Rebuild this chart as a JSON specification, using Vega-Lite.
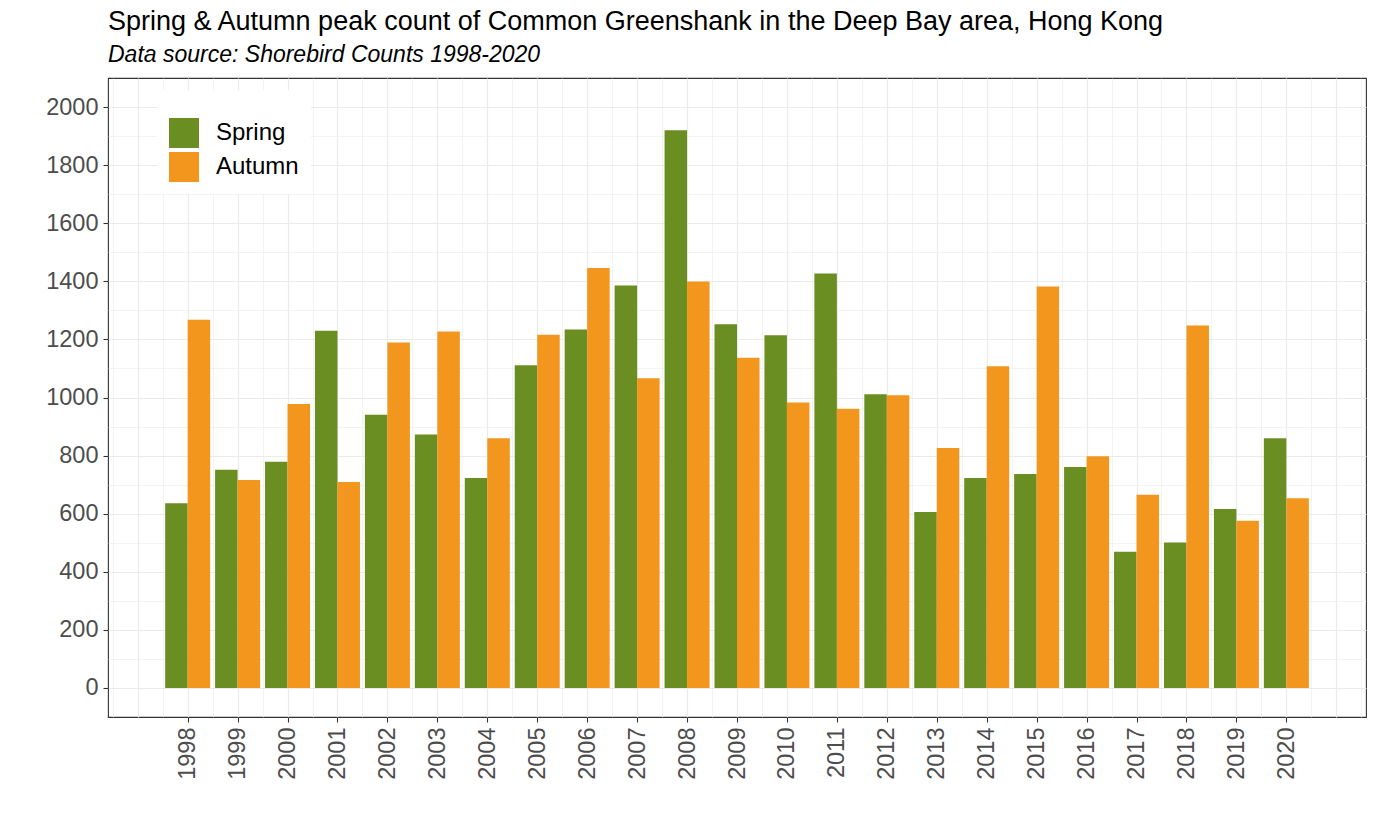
{
  "$schema": "https://vega.github.io/schema/vega-lite/v6.json",
  "description": "Spring and autumn peak counts of Common Greenshank, Deep Bay, 1998-2020",
  "width": 1258,
  "height": 639,
  "autosize": {"type": "none"},
  "padding": {"left": 108, "top": 78, "right": 12, "bottom": 110},
  "background": "white",
  "title": {
    "text": "Spring & Autumn peak count of Common Greenshank in the Deep Bay area, Hong Kong",
    "subtitle": "Data source: Shorebird Counts 1998-2020",
    "anchor": "start",
    "frame": "group",
    "font": "Liberation Sans",
    "fontSize": 27,
    "fontWeight": "normal",
    "color": "black",
    "subtitleFont": "Liberation Sans",
    "subtitleFontSize": 23,
    "subtitleFontStyle": "italic",
    "subtitleColor": "black",
    "subtitlePadding": 8,
    "offset": 10
  },
  "data": {
    "values": [
      {"year": 1998, "season": "Spring", "count": 636},
      {"year": 1998, "season": "Autumn", "count": 1268},
      {"year": 1999, "season": "Spring", "count": 751},
      {"year": 1999, "season": "Autumn", "count": 716},
      {"year": 2000, "season": "Spring", "count": 779},
      {"year": 2000, "season": "Autumn", "count": 978},
      {"year": 2001, "season": "Spring", "count": 1230},
      {"year": 2001, "season": "Autumn", "count": 709},
      {"year": 2002, "season": "Spring", "count": 941},
      {"year": 2002, "season": "Autumn", "count": 1189},
      {"year": 2003, "season": "Spring", "count": 873},
      {"year": 2003, "season": "Autumn", "count": 1227},
      {"year": 2004, "season": "Spring", "count": 723},
      {"year": 2004, "season": "Autumn", "count": 860},
      {"year": 2005, "season": "Spring", "count": 1111},
      {"year": 2005, "season": "Autumn", "count": 1216},
      {"year": 2006, "season": "Spring", "count": 1234},
      {"year": 2006, "season": "Autumn", "count": 1446},
      {"year": 2007, "season": "Spring", "count": 1386},
      {"year": 2007, "season": "Autumn", "count": 1066},
      {"year": 2008, "season": "Spring", "count": 1920},
      {"year": 2008, "season": "Autumn", "count": 1399},
      {"year": 2009, "season": "Spring", "count": 1252},
      {"year": 2009, "season": "Autumn", "count": 1137},
      {"year": 2010, "season": "Spring", "count": 1214},
      {"year": 2010, "season": "Autumn", "count": 983},
      {"year": 2011, "season": "Spring", "count": 1427},
      {"year": 2011, "season": "Autumn", "count": 961},
      {"year": 2012, "season": "Spring", "count": 1011},
      {"year": 2012, "season": "Autumn", "count": 1008},
      {"year": 2013, "season": "Spring", "count": 606},
      {"year": 2013, "season": "Autumn", "count": 826},
      {"year": 2014, "season": "Spring", "count": 723},
      {"year": 2014, "season": "Autumn", "count": 1108},
      {"year": 2015, "season": "Spring", "count": 737},
      {"year": 2015, "season": "Autumn", "count": 1382},
      {"year": 2016, "season": "Spring", "count": 761},
      {"year": 2016, "season": "Autumn", "count": 798},
      {"year": 2017, "season": "Spring", "count": 469},
      {"year": 2017, "season": "Autumn", "count": 665},
      {"year": 2018, "season": "Spring", "count": 501},
      {"year": 2018, "season": "Autumn", "count": 1248},
      {"year": 2019, "season": "Spring", "count": 616},
      {"year": 2019, "season": "Autumn", "count": 576},
      {"year": 2020, "season": "Spring", "count": 860},
      {"year": 2020, "season": "Autumn", "count": 653}
    ]
  },
  "encoding": {
    "x": {
      "field": "year",
      "type": "quantitative",
      "title": null,
      "scale": {"domain": [1996.405, 2021.595], "nice": false, "zero": false, "padding": 0},
      "axis": {
        "values": [1996.5, 1997, 1997.5, 1998, 1998.5, 1999, 1999.5, 2000, 2000.5, 2001, 2001.5, 2002, 2002.5, 2003, 2003.5, 2004, 2004.5, 2005, 2005.5, 2006, 2006.5, 2007, 2007.5, 2008, 2008.5, 2009, 2009.5, 2010, 2010.5, 2011, 2011.5, 2012, 2012.5, 2013, 2013.5, 2014, 2014.5, 2015, 2015.5, 2016, 2016.5, 2017, 2017.5, 2018, 2018.5, 2019, 2019.5, 2020, 2020.5, 2021, 2021.5],
        "labelExpr": "abs(datum.value - round(datum.value)) < 0.01 && datum.value > 1997.9 && datum.value < 2020.1 ? format(datum.value, 'd') : ''",
        "labelAngle": 270,
        "labelAlign": "right",
        "labelBaseline": "middle",
        "labelPadding": 5,
        "labelOverlap": false,
        "labelFlush": false,
        "tickOpacity": {"condition": {"test": "abs(datum.value - round(datum.value)) < 0.01 && datum.value > 1997.9 && datum.value < 2020.1", "value": 1}, "value": 0},
        "gridWidth": {"condition": {"test": "abs(datum.value - round(datum.value)) < 0.01", "value": 1.2}, "value": 0.6}
      }
    },
    "y": {
      "field": "count",
      "type": "quantitative",
      "title": null,
      "scale": {"domain": [-100, 2100], "nice": false, "padding": 0},
      "axis": {
        "values": [0, 100, 200, 300, 400, 500, 600, 700, 800, 900, 1000, 1100, 1200, 1300, 1400, 1500, 1600, 1700, 1800, 1900, 2000],
        "labelExpr": "abs(datum.value / 200 - round(datum.value / 200)) < 0.01 ? format(datum.value, 'd') : ''",
        "labelPadding": 5,
        "labelOverlap": false,
        "labelFlush": false,
        "tickOpacity": {"condition": {"test": "abs(datum.value / 200 - round(datum.value / 200)) < 0.01", "value": 1}, "value": 0},
        "gridWidth": {"condition": {"test": "abs(datum.value / 200 - round(datum.value / 200)) < 0.01", "value": 1.2}, "value": 0.6}
      }
    },
    "color": {
      "field": "season",
      "type": "nominal",
      "scale": {"domain": ["Spring", "Autumn"], "range": ["#6B8E23", "#F3961E"]},
      "legend": {
        "title": " ",
        "titleFontSize": 12,
        "titlePadding": 4,
        "orient": "none",
        "legendX": 49,
        "legendY": 12,
        "padding": 12,
        "fillColor": "white",
        "symbolType": "square",
        "symbolSize": 900,
        "symbolStrokeWidth": 0,
        "symbolOpacity": 1,
        "rowPadding": 4,
        "labelOffset": 17,
        "labelFont": "Liberation Sans",
        "labelFontSize": 24,
        "labelColor": "black"
      }
    }
  },
  "layer": [
    {
      "transform": [{"filter": "datum.season === 'Spring'"}],
      "mark": {"type": "bar", "width": 22.5, "xOffset": -11.25}
    },
    {
      "transform": [{"filter": "datum.season === 'Autumn'"}],
      "mark": {"type": "bar", "width": 22.5, "xOffset": 11.25}
    }
  ],
  "config": {
    "font": "Liberation Sans",
    "view": {"stroke": "#333333", "strokeWidth": 1.1},
    "axis": {
      "domain": false,
      "grid": true,
      "gridColor": "#EBEBEB",
      "tickColor": "#333333",
      "tickWidth": 1.1,
      "tickSize": 5,
      "labelFont": "Liberation Sans",
      "labelFontSize": 23.5,
      "labelColor": "#4D4D4D"
    }
  }
}
